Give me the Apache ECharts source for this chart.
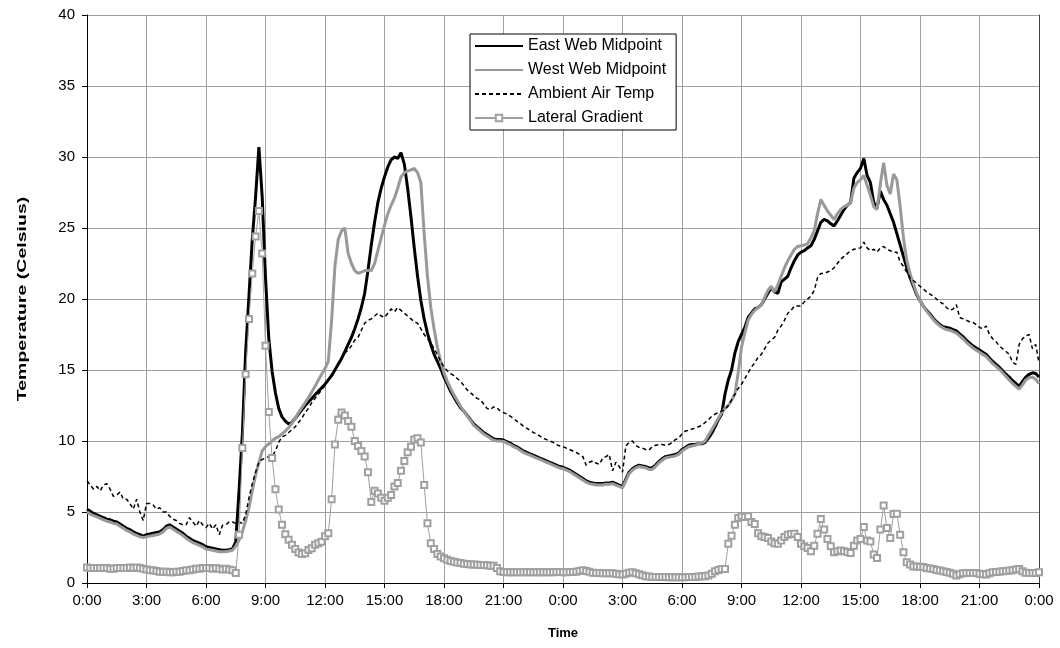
<!DOCTYPE html>
<html>
<head>
<meta charset="utf-8">
<script src="https://cdn.jsdelivr.net/npm/echarts@6/dist/echarts.min.js"></script>
<style>
  html, body { margin: 0; padding: 0; background: #ffffff; }
  #chart { width: 1060px; height: 648px; }
</style>
</head>
<body>
<div id="chart"></div>
<script>
// Web temperatures over two days, one reading every 10 minutes (289 readings, 0:00 to 0:00 two days later)
const STEP_HOURS = 1 / 6;

const seriesNames = ['East Web Midpoint', 'West Web Midpoint', 'Ambient Air Temp', 'Lateral Gradient'];

const eastWeb = [
  5.2,5.05,4.9,4.8,4.7,4.6, 4.5,4.45,4.35,4.3,4.15,4.0, 3.85,3.75,3.6,3.5,3.4,3.3,
  3.4,3.45,3.5,3.55,3.6,3.75, 4.0,4.1,3.95,3.8,3.65,3.5, 3.3,3.15,3.0,2.9,2.8,2.7,
  2.55,2.5,2.45,2.4,2.35,2.3, 2.3,2.35,2.4,2.9,6.5,10.5, 16.3,20.2,24.2,27.2,30.7,27.2,
  21.5,17.2,14.9,13.4,12.3,11.7, 11.4,11.2,11.3,11.6,11.9,12.2, 12.5,12.75,13.0,13.25,13.5,13.75,
  14.0,14.3,14.6,15.0,15.4,15.8, 16.3,16.8,17.3,17.9,18.6,19.4, 20.4,22.0,23.8,25.4,26.8,27.8,
  28.6,29.3,29.8,30.0,29.9,30.3, 29.5,27.8,25.8,23.6,21.6,19.9, 18.6,17.6,16.8,16.1,15.6,15.1,
  14.5,14.0,13.5,13.1,12.7,12.35, 12.1,11.8,11.5,11.2,11.0,10.8, 10.6,10.45,10.3,10.15,10.1,10.1,
  10.07,9.95,9.85,9.7,9.6,9.45, 9.3,9.2,9.1,9.0,8.9,8.8, 8.7,8.6,8.5,8.4,8.3,8.2,
  8.15,8.05,7.95,7.8,7.65,7.5, 7.35,7.2,7.1,7.05,7.0,7.0, 7.0,7.05,7.05,7.1,7.0,6.9,
  6.8,7.3,7.8,8.05,8.2,8.3, 8.25,8.2,8.1,8.1,8.3,8.55, 8.75,8.9,8.95,9.0,9.05,9.15,
  9.4,9.55,9.7,9.75,9.75,9.8, 9.8,9.9,10.2,10.55,11.0,11.5, 11.9,13.3,14.3,15.0,16.2,17.0,
  17.5,18.0,18.7,19.0,19.3,19.4, 19.6,20.0,20.4,20.8,20.5,20.4, 21.2,21.4,21.6,22.2,22.7,23.1,
  23.3,23.4,23.6,23.75,24.2,24.8, 25.4,25.6,25.5,25.3,25.15,25.5, 25.9,26.3,26.6,26.8,28.5,28.9,
  29.2,29.9,28.7,28.2,26.8,26.4, 27.6,27.0,26.6,26.0,25.4,24.6, 23.8,23.0,22.2,21.5,20.9,20.3,
  19.9,19.5,19.2,18.95,18.65,18.4, 18.2,18.05,18.0,17.95,17.85,17.75, 17.55,17.35,17.1,16.9,16.7,16.55,
  16.4,16.25,16.1,15.85,15.6,15.4, 15.2,14.95,14.7,14.5,14.25,14.05, 13.85,14.2,14.5,14.7,14.8,14.75,
  14.5
];

const westWeb = [
  5.0,4.85,4.75,4.65,4.55,4.45, 4.35,4.3,4.2,4.15,4.0,3.85, 3.7,3.6,3.45,3.35,3.25,3.2,
  3.25,3.3,3.35,3.4,3.45,3.6, 3.85,3.95,3.8,3.65,3.5,3.35, 3.15,3.0,2.85,2.75,2.65,2.55,
  2.4,2.35,2.3,2.25,2.2,2.2, 2.2,2.25,2.3,2.6,3.0,3.6, 4.4,5.3,6.5,7.6,8.5,9.3,
  9.6,9.8,10.0,10.2,10.3,10.5, 10.7,10.95,11.25,11.6,12.0,12.35, 12.7,13.05,13.45,13.85,14.3,14.7,
  15.1,15.6,18.5,22.3,24.2,24.8, 25.0,23.2,22.5,22.0,21.8,21.9, 22.0,22.0,22.0,22.5,23.4,24.3,
  25.2,26.0,26.6,27.1,27.8,28.6, 28.9,29.0,29.1,29.2,28.9,28.2, 24.6,21.6,19.4,17.9,16.6,15.6,
  14.8,14.2,13.7,13.25,12.85,12.45, 12.1,11.75,11.45,11.1,10.9,10.7, 10.5,10.35,10.2,10.05,10.0,10.0,
  9.97,9.85,9.75,9.6,9.5,9.35, 9.2,9.1,9.0,8.9,8.8,8.7, 8.6,8.5,8.4,8.3,8.2,8.1,
  8.05,7.95,7.85,7.7,7.55,7.4, 7.25,7.1,7.0,6.95,6.9,6.9, 6.9,6.95,6.95,7.0,6.9,6.8,
  6.7,7.2,7.7,7.95,8.1,8.2, 8.15,8.1,8.0,8.0,8.2,8.45, 8.65,8.8,8.85,8.9,8.95,9.05,
  9.3,9.45,9.6,9.65,9.7,9.8, 9.85,10.0,10.4,10.8,11.2,11.6, 12.0,12.3,12.5,12.85,13.3,14.8,
  16.6,17.6,18.5,18.9,19.2,19.4, 19.6,20.1,20.6,20.9,20.5,21.0, 21.6,22.2,22.7,23.1,23.5,23.7,
  23.75,23.8,23.9,24.3,24.8,26.0, 27.0,26.6,26.2,25.9,25.6,26.0, 26.3,26.5,26.6,26.8,27.8,28.2,
  28.4,28.7,28.0,27.3,26.5,26.3, 28.1,29.6,28.0,27.4,28.8,28.4, 26.5,24.3,22.7,21.8,21.05,20.4,
  19.9,19.5,19.15,18.85,18.55,18.3, 18.1,17.95,17.85,17.8,17.7,17.6, 17.4,17.2,16.95,16.75,16.55,16.4,
  16.25,16.1,15.95,15.7,15.45,15.25, 15.05,14.8,14.55,14.3,14.05,13.85, 13.65,13.95,14.3,14.45,14.5,14.35,
  14.05
];

const ambientAir = [
  7.2,6.9,6.6,6.8,6.5,6.9, 7.0,6.6,6.1,6.2,6.4,5.9, 5.9,5.6,5.2,5.9,5.0,4.4,
  5.6,5.6,5.5,5.2,5.3,5.0, 5.0,4.7,4.5,4.4,4.2,4.1, 4.1,4.6,4.3,4.0,4.4,4.1,
  3.9,4.2,3.8,4.1,3.4,4.06, 4.1,4.3,4.3,4.2,4.3,4.2, 4.8,6.0,7.0,7.8,8.5,8.7,
  8.8,8.9,8.9,9.3,9.9,10.3, 10.4,10.6,10.8,11.0,11.3,11.6, 12.0,12.3,12.7,13.0,13.3,13.6,
  13.9,14.3,14.7,15.0,15.5,15.9, 16.2,16.4,16.7,17.1,17.3,17.8, 18.3,18.5,18.6,18.8,19.0,18.8,
  18.7,19.0,19.3,19.1,19.4,19.2, 19.0,18.8,18.6,18.4,18.3,17.9, 17.5,17.2,16.9,16.5,16.1,15.6,
  15.2,14.95,14.75,14.6,14.4,14.2, 13.9,13.6,13.4,13.2,13.0,12.9, 12.6,12.3,12.2,12.4,12.35,12.1,
  12.0,11.9,11.75,11.6,11.4,11.25, 11.05,10.9,10.75,10.6,10.5,10.35, 10.2,10.1,10.0,9.9,9.75,9.65,
  9.6,9.5,9.4,9.3,9.2,9.05, 8.9,8.3,8.5,8.6,8.45,8.35, 8.8,8.9,9.05,7.9,8.5,8.2,
  7.8,9.65,9.9,10.0,9.7,9.55, 9.5,9.4,9.35,9.6,9.7,9.75, 9.75,9.7,9.75,9.9,10.1,10.2,
  10.5,10.7,10.75,10.85,10.9,11.0, 11.1,11.3,11.5,11.75,11.9,12.0, 12.1,12.2,12.5,12.9,13.3,13.7,
  14.0,14.4,14.8,15.2,15.5,15.9, 16.1,16.5,16.9,17.1,17.3,17.8, 18.1,18.5,19.0,19.2,19.5,19.5,
  19.5,19.8,20.0,20.2,20.6,21.5, 21.8,21.8,21.9,22.0,22.2,22.5, 22.8,23.0,23.2,23.4,23.5,23.55,
  23.6,24.0,23.6,23.4,23.5,23.3, 23.6,23.7,23.5,23.4,23.3,23.3, 22.6,22.3,21.9,21.5,21.3,21.1,
  20.9,20.7,20.5,20.35,20.2,20.0, 19.8,19.65,19.4,19.2,19.3,19.6, 18.7,18.6,18.5,18.4,18.35,18.2,
  18.0,17.9,18.1,17.5,17.2,17.0, 16.7,16.5,16.3,16.1,15.55,15.4, 16.8,17.2,17.4,17.5,16.5,16.8,
  15.5
];

const lateralGradient = [
  1.1,1.05,1.05,1.05,1.05,1.05, 1.05,1.0,1.0,1.05,1.05,1.05, 1.05,1.1,1.05,1.1,1.05,1.0,
  0.95,0.9,0.9,0.85,0.8,0.8, 0.8,0.75,0.75,0.8,0.8,0.85, 0.9,0.9,0.95,1.0,1.0,1.05,
  1.05,1.05,1.0,1.05,1.0,0.95, 1.0,0.95,0.9,0.7,3.4,9.5, 14.7,18.6,21.8,24.4,26.2,23.2,
  16.7,12.05,8.8,6.6,5.17,4.1, 3.44,3.04,2.7,2.4,2.15,2.05, 2.1,2.33,2.45,2.7,2.8,2.9,
  3.3,3.5,5.9,9.76,11.5,12.0, 11.8,11.4,11.0,10.0,9.65,9.3, 8.9,7.8,5.7,6.5,6.3,6.0,
  5.8,6.0,6.2,6.8,7.05,7.9, 8.6,9.2,9.6,10.1,10.2,9.9, 6.9,4.2,2.8,2.4,2.05,1.86,
  1.75,1.63,1.55,1.5,1.45,1.4, 1.36,1.34,1.3,1.3,1.28,1.27, 1.26,1.25,1.22,1.22,1.06,0.82,
  0.78,0.75,0.75,0.75,0.75,0.75, 0.75,0.75,0.75,0.75,0.75,0.75, 0.75,0.75,0.75,0.75,0.78,0.78,
  0.75,0.76,0.78,0.78,0.8,0.85, 0.9,0.85,0.8,0.72,0.7,0.7, 0.68,0.68,0.68,0.68,0.65,0.62,
  0.6,0.65,0.72,0.75,0.68,0.62, 0.55,0.48,0.45,0.42,0.42,0.42, 0.42,0.42,0.4,0.4,0.4,0.4,
  0.4,0.4,0.42,0.42,0.42,0.45, 0.47,0.47,0.52,0.66,0.82,0.92, 0.99,0.99,2.77,3.33,4.1,4.58,
  4.7,4.65,4.7,4.3,4.15,3.5, 3.3,3.24,3.17,2.93,2.8,2.77, 3.0,3.24,3.4,3.45,3.47,3.24,
  2.77,2.58,2.46,2.23,2.63,3.47, 4.5,3.76,3.1,2.58,2.16,2.23, 2.28,2.23,2.18,2.11,2.63,3.0,
  3.1,3.94,3.0,2.93,2.0,1.76, 3.76,5.45,3.87,3.17,4.86,4.88, 3.4,2.16,1.46,1.3,1.17,1.17,
  1.15,1.13,1.06,1.02,0.99,0.92, 0.88,0.82,0.78,0.72,0.66,0.52, 0.62,0.68,0.7,0.7,0.7,0.7,
  0.66,0.62,0.59,0.68,0.75,0.78, 0.8,0.82,0.85,0.88,0.9,0.95, 0.99,0.82,0.72,0.7,0.7,0.7,
  0.75
];

// Pair each reading with its elapsed time in hours
const withTime = arr => arr.map((v, i) => [i * STEP_HOURS, v]);

const FONT = '"Liberation Sans", Arial, sans-serif';
const GRID_GRAY = '#a0a0a0';

const chart = echarts.init(document.getElementById('chart'), null, { renderer: 'canvas' });

// Plain lines in the key show only the stroke; the gradient keeps its square marker
const legendItems = seriesNames.map((name, i) =>
  i < 3 ? { name, itemStyle: { opacity: 0 } } : { name }
);

chart.setOption({
  animation: false,
  backgroundColor: '#ffffff',
  textStyle: { fontFamily: FONT },
  grid: { left: 87, right: 21, top: 15, bottom: 65, containLabel: false },
  legend: {
    data: legendItems,
    orient: 'vertical',
    left: 470,
    top: 34,
    itemWidth: 48,
    itemHeight: 8,
    itemGap: 8,
    padding: [4, 10, 4, 4],
    borderColor: '#000000',
    borderWidth: 1,
    backgroundColor: '#ffffff',
    textStyle: { fontFamily: FONT, fontSize: 16, color: '#000000' }
  },
  // Vertical axis title, stretched along its length
  graphic: [
    {
      type: 'text',
      x: 22,
      y: 299,
      rotation: Math.PI / 2,
      scaleX: 1.5,
      style: {
        text: 'Temperature (Celsius)',
        fontFamily: FONT,
        fontSize: 13,
        fontWeight: 'bold',
        fill: '#000000',
        align: 'center',
        verticalAlign: 'middle'
      }
    }
  ],
  xAxis: {
    type: 'value',
    min: 0,
    max: 48,
    interval: 3,
    name: 'Time',
    nameLocation: 'middle',
    nameGap: 44,
    nameTextStyle: { fontFamily: FONT, fontSize: 13, fontWeight: 'bold', color: '#000000' },
    axisLine: { show: true, onZero: false, lineStyle: { color: '#000000', width: 1 } },
    axisTick: { show: true, inside: false, length: 5, lineStyle: { color: '#000000' } },
    axisLabel: {
      margin: 10,
      fontFamily: FONT,
      fontSize: 15,
      color: '#000000',
      formatter: v => (v % 24) + ':00'
    },
    splitLine: { show: true, lineStyle: { color: GRID_GRAY, width: 1 } }
  },
  yAxis: [
    {
      type: 'value',
      min: 0,
      max: 40,
      interval: 5,
      axisLine: { show: true, lineStyle: { color: '#000000', width: 1 } },
      axisTick: { show: true, inside: false, length: 5, lineStyle: { color: '#000000' } },
      axisLabel: { margin: 12, fontFamily: FONT, fontSize: 15, color: '#000000' },
      splitLine: { show: true, lineStyle: { color: GRID_GRAY, width: 1 } }
    },
    {
      type: 'value',
      position: 'right',
      min: 0,
      max: 40,
      interval: 5,
      axisLine: { show: true, lineStyle: { color: '#404040', width: 1 } },
      axisTick: { show: false },
      axisLabel: { show: false },
      splitLine: { show: false }
    }
  ],
  series: [
    {
      name: seriesNames[0],
      type: 'line',
      data: withTime(eastWeb),
      symbol: 'none',
      lineStyle: { color: '#000000', width: 3 },
      itemStyle: { color: '#000000' }
    },
    {
      name: seriesNames[1],
      type: 'line',
      data: withTime(westWeb),
      symbol: 'none',
      lineStyle: { color: '#999999', width: 3 },
      itemStyle: { color: '#999999' }
    },
    {
      name: seriesNames[2],
      type: 'line',
      data: withTime(ambientAir),
      symbol: 'none',
      lineStyle: { color: '#000000', width: 1.5, type: [4, 3] },
      itemStyle: { color: '#000000' }
    },
    {
      name: seriesNames[3],
      type: 'line',
      data: withTime(lateralGradient),
      symbol: 'emptyRect',
      symbolSize: 6,
      showSymbol: true,
      lineStyle: { color: '#a0a0a0', width: 1 },
      itemStyle: { color: '#a0a0a0', borderColor: '#a0a0a0', borderWidth: 1.2 }
    }
  ]
});
</script>
</body>
</html>
